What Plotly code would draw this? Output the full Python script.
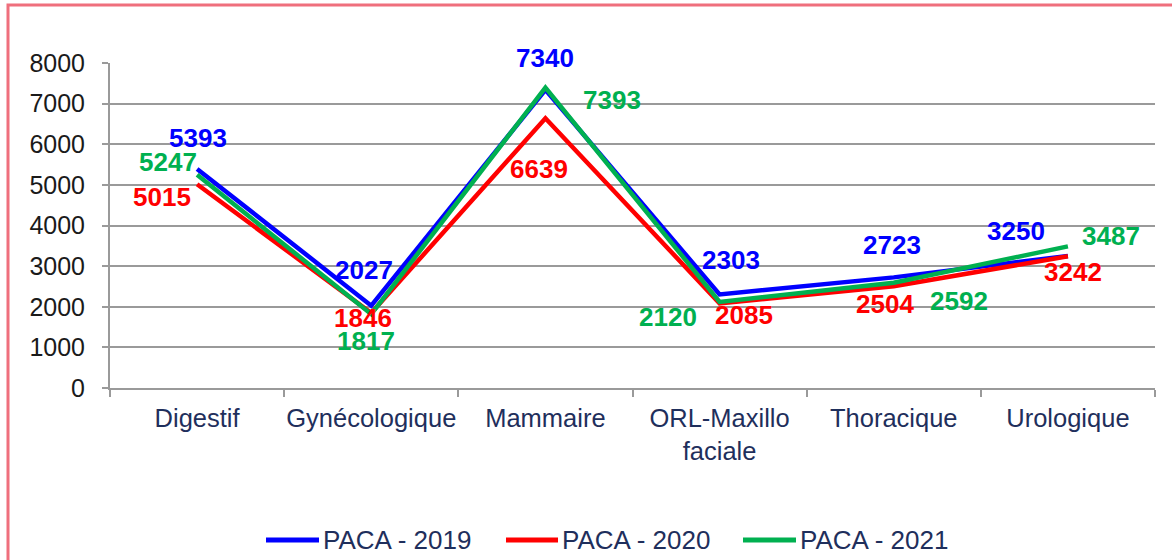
import plotly.graph_objects as go

categories = ["Digestif", "Gynécologique", "Mammaire", "ORL-Maxillo<br>faciale", "Thoracique", "Urologique"]
series_names = ["PACA - 2019", "PACA - 2020", "PACA - 2021"]
paca_2019 = [5393, 2027, 7340, 2303, 2723, 3250]
paca_2020 = [5015, 1846, 6639, 2085, 2504, 3242]
paca_2021 = [5247, 1817, 7393, 2120, 2592, 3487]
y_ticks = [0, 1000, 2000, 3000, 4000, 5000, 6000, 7000, 8000]

series_values = [paca_2019, paca_2020, paca_2021]
colors = ["#0000ff", "#ff0000", "#00b050"]

# label offsets in pixels (dx, dy downward positive)
label_offsets = [
    [(1, -31), (-7, -36), (0, -32), (11, -34), (-2, -32), (-52, -25)],
    [(-35, 13), (-8, 5), (-6, 51), (24, 12), (-9, 18), (5, 16)],
    [(-29, -13), (-5, 27), (67, 12), (-52, 15), (65, 18), (43, -10)],
]

FONT = "Arial, Liberation Sans, sans-serif"
W, H = 1172, 560
ML, MR, MT, MB = 110, 17, 63, 172
PW = W - ML - MR
PH = H - MT - MB

def px_x(px):
    return (px - ML) / PW

def px_y(py):
    return (H - MB - py) / PH

fig = go.Figure()
for name, vals, col in zip(series_names, series_values, colors):
    fig.add_trace(go.Scatter(
        x=categories, y=vals, mode="lines", name=name,
        line=dict(color=col, width=4.5), showlegend=False,
    ))

annotations = []
for vals, col, offs in zip(series_values, colors, label_offsets):
    for cat, v, (dx, dy) in zip(categories, vals, offs):
        annotations.append(dict(
            x=cat, y=v, xref="x", yref="y", text=str(v), showarrow=False,
            xshift=dx, yshift=-dy,
            font=dict(family=FONT, size=26, color=col, weight="bold"),
        ))

# manual legend
legend_lines = [(266, 319), (506, 558), (743, 796)]
legend_y = 540
shapes = []
for (x0, x1), col, name in zip(legend_lines, colors, series_names):
    shapes.append(dict(type="line", xref="paper", yref="paper",
                       x0=px_x(x0), x1=px_x(x1), y0=px_y(legend_y), y1=px_y(legend_y),
                       line=dict(color=col, width=5)))
    annotations.append(dict(xref="paper", yref="paper", x=px_x(x1 + 2), y=px_y(legend_y),
                            xanchor="left", yanchor="middle", text=name, showarrow=False,
                            font=dict(family=FONT, size=26, color="#1f2f5c")))

# pink frame
shapes.append(dict(type="rect", xref="paper", yref="paper",
                   x0=px_x(8), x1=px_x(1185), y0=px_y(575), y1=px_y(5),
                   line=dict(color="#ef6f7d", width=3), fillcolor="rgba(0,0,0,0)", layer="below"))

fig.update_layout(
    width=W, height=H,
    margin=dict(l=ML, r=MR, t=MT, b=MB, autoexpand=False),
    paper_bgcolor="white", plot_bgcolor="white",
    showlegend=False,
    annotations=annotations,
    shapes=shapes,
    xaxis=dict(
        type="category", tickson="boundaries", ticks="outside", ticklen=7,
        tickcolor="#9a9a9a", tickwidth=2, tickangle=0, automargin=False,
        showline=True, linecolor="#9a9a9a", linewidth=2,
        showgrid=False, range=[-0.5, 5.5], ticklabelstandoff=6,
        tickfont=dict(family=FONT, size=25.5, color="#1f2f5c"),
    ),
    yaxis=dict(
        range=[0, 8000], tickvals=y_ticks, ticks="outside", ticklen=6,
        tickcolor="#9a9a9a", tickwidth=2, automargin=False,
        showline=True, linecolor="#9a9a9a", linewidth=2,
        showgrid=True, gridcolor="#9a9a9a", gridwidth=2,
        zeroline=False, ticklabelstandoff=12,
        tickfont=dict(family=FONT, size=25, color="#1a1a1a"),
    ),
)

fig.write_html("out.html", config={"displayModeBar": False},
               post_script="document.body.style.margin='0';document.body.style.padding='0';")
